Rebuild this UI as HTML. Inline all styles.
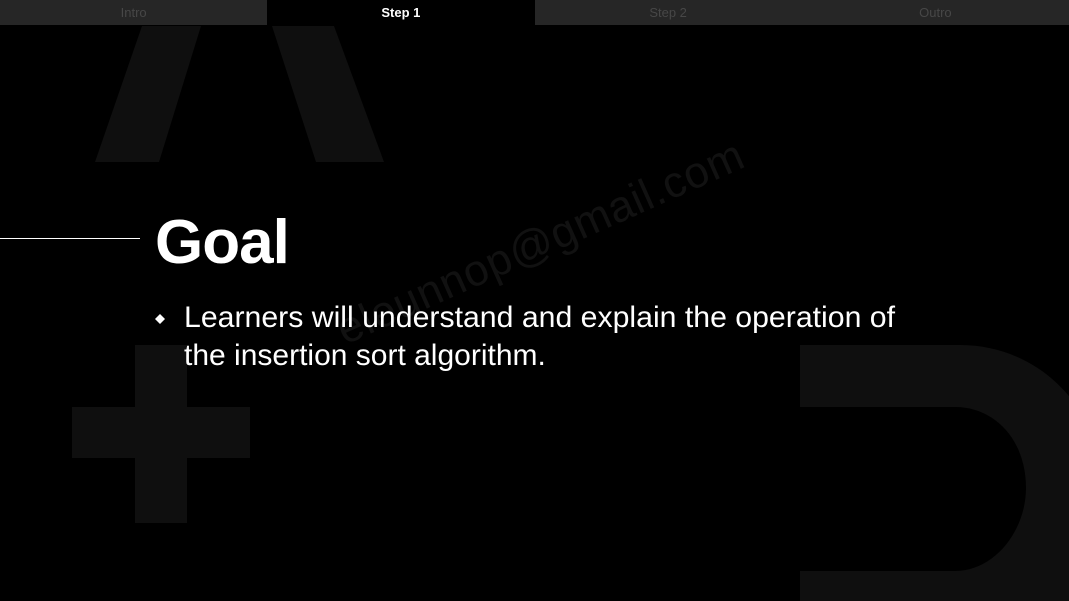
<!DOCTYPE html>
<html><head><meta charset="utf-8"><style>
html,body{margin:0;padding:0;background:#000;width:1069px;height:601px;overflow:hidden;font-family:"Liberation Sans",sans-serif}
.tabs{position:absolute;left:0;top:0;width:1069px;height:25px;background:#262626;display:flex}
.tab{flex:1;text-align:center;line-height:26px;font-size:13px;color:#474747}
.tab.a{background:#000;color:#fff;font-weight:bold}
</style></head><body>
<svg style="position:absolute;left:0;top:0" width="1069" height="601">
<g fill="#0f0f0f">
<polygon points="142,26 201,26 159,162 95,162"/>
<polygon points="272,26 334,26 384,162 316,162"/>
<rect x="135" y="345" width="52" height="178"/>
<rect x="72" y="407" width="178" height="51"/>
<path fill-rule="evenodd" d="M800,345 L960,345 C1040,345 1100,410 1100,480 L1100,601 L800,601 L800,571 L955,571 C995,571 1026,530 1026,488 C1026,440 995,407 955,407 L800,407 Z"/>
</g>
<text x="0" y="0" transform="translate(345,345) rotate(-24)" font-family="Liberation Sans" font-size="44" fill="#111" textLength="440">eleunnop@gmail.com</text>
<line x1="0" y1="238.5" x2="140" y2="238.5" stroke="#fff" stroke-width="1"/>
<text x="155" y="263" font-family="Liberation Sans" font-weight="bold" font-size="62" fill="#fff" letter-spacing="-1">Goal</text>
<polygon points="160,314 165,319 160,324 155,319" fill="#fff"/>
<text x="184" y="327" font-family="Liberation Sans" font-size="30" fill="#fff" textLength="711" lengthAdjust="spacingAndGlyphs">Learners will understand and explain the operation of</text>
<text x="184" y="365" font-family="Liberation Sans" font-size="30" fill="#fff">the insertion sort algorithm.</text>
</svg>
<div class="tabs"><div class="tab">Intro</div><div class="tab a">Step 1</div><div class="tab">Step 2</div><div class="tab">Outro</div></div>
</body></html>
